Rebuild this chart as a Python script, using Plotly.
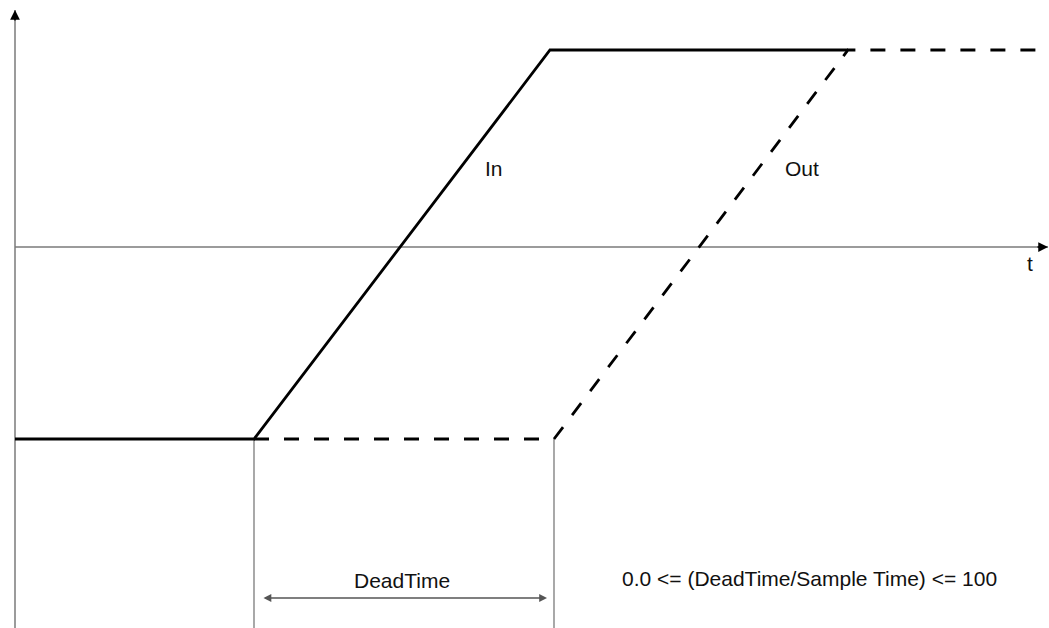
import plotly.graph_objects as go

# diagram units: t along the time axis, v for signal level (origin where axes cross)
in_t = [0, 239, 535, 833]
in_v = [-192, -192, 197, 197]
out_t = [239, 539, 833, 1030]
out_v = [-192, -192, 197, 197]

t_axis_end = 1033
v_axis_top = 237
v_axis_bottom = -381

guide_t = [239, 539]
guide_v = [-192, -381]

deadtime_v = -351
deadtime_t = [247, 532]

labels = {
    "In": (479, 79),
    "Out": (787, 79),
    "t": (1015, -16),
    "DeadTime": (387, -333),
    "0.0 <= (DeadTime/Sample Time) <= 100": (794, -331),
}

font = dict(family="Liberation Sans, Arial, sans-serif", size=21, color="#111")
grey = "#7a7a7a"

fig = go.Figure()

# axes
fig.add_trace(go.Scatter(x=[0, t_axis_end], y=[0, 0], mode="lines",
                         line=dict(color=grey, width=1.5), hoverinfo="skip"))
fig.add_trace(go.Scatter(x=[0, 0], y=[v_axis_bottom, v_axis_top], mode="lines",
                         line=dict(color=grey, width=1.5), hoverinfo="skip"))

# guide lines below the low level
for gt in guide_t:
    fig.add_trace(go.Scatter(x=[gt, gt], y=guide_v, mode="lines",
                             line=dict(color=grey, width=1.3), hoverinfo="skip"))

# signals
fig.add_trace(go.Scatter(x=out_t, y=out_v, mode="lines", name="Out",
                         line=dict(color="black", width=2.8, dash="15px,15px")))
fig.add_trace(go.Scatter(x=in_t, y=in_v, mode="lines", name="In",
                         line=dict(color="black", width=2.8)))

# arrowheads on axes
fig.add_annotation(x=t_axis_end, y=0, ax=t_axis_end - 12, ay=0, xref="x", yref="y",
                   axref="x", ayref="y", showarrow=True, arrowhead=2, arrowsize=1.3,
                   arrowwidth=1.5, arrowcolor="black", text="", standoff=0)
fig.add_annotation(x=0, y=v_axis_top, ax=0, ay=v_axis_top - 12, xref="x", yref="y",
                   axref="x", ayref="y", showarrow=True, arrowhead=2, arrowsize=1.3,
                   arrowwidth=1.5, arrowcolor="black", text="", standoff=0)

# dead time dimension arrow
fig.add_annotation(x=deadtime_t[1], y=deadtime_v, ax=deadtime_t[0], ay=deadtime_v,
                   xref="x", yref="y", axref="x", ayref="y", showarrow=True,
                   arrowhead=2, startarrowhead=2, arrowside="end+start",
                   arrowsize=1.2, startarrowsize=1.2, arrowwidth=1.3,
                   arrowcolor="#555", text="", standoff=0, startstandoff=0)

for txt, (tx, ty) in labels.items():
    fig.add_annotation(x=tx, y=ty, xref="x", yref="y", text=txt, showarrow=False,
                       font=font, xanchor="center", yanchor="middle")

fig.update_layout(
    width=1049, height=628,
    margin=dict(l=0, r=0, t=0, b=0),
    paper_bgcolor="white", plot_bgcolor="white",
    showlegend=False,
    xaxis=dict(range=[-15, 1034], visible=False, fixedrange=True),
    yaxis=dict(range=[-381, 247], visible=False, fixedrange=True),
)

fig.write_html("out.html", config={"displayModeBar": False},
               post_script="document.body.style.margin='0';")
